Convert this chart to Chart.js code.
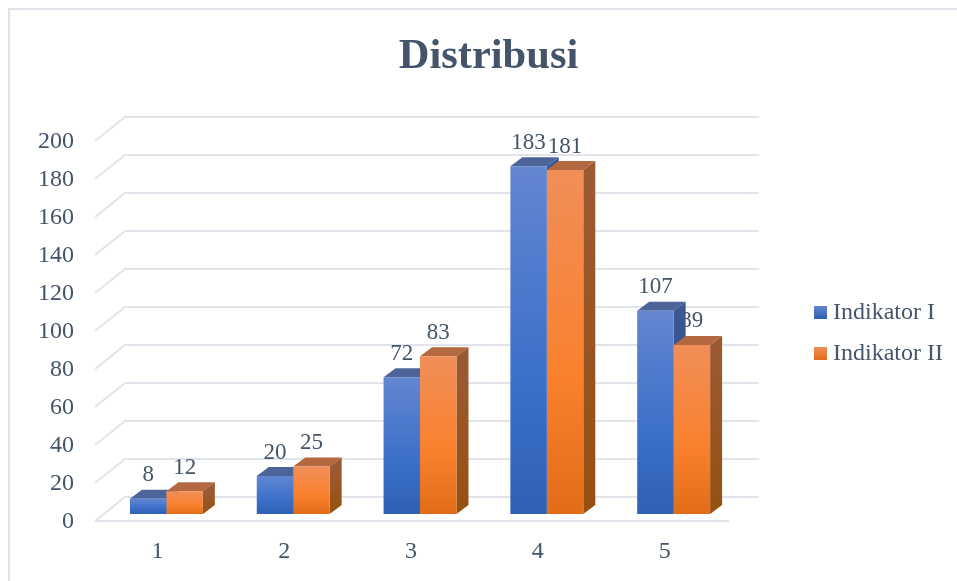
<!DOCTYPE html>
<html>
<head>
<meta charset="utf-8">
<title>Distribusi</title>
<script src="https://cdn.jsdelivr.net/npm/chart.js"></script>
<style>
  html, body { margin: 0; padding: 0; background: #fff; overflow: hidden; width: 957px; height: 581px; }
  #frame { position: absolute; left: 8px; top: 8px; border-left: 2px solid #dfe3ea; border-top: 2px solid #dfe3ea; width: 957px; height: 646px; }
  canvas { display: block; }
</style>
</head>
<body>
<div id="frame"><canvas id="grafik" width="957" height="646"></canvas></div>
<script>
const categories = ["1", "2", "3", "4", "5"];
const indikator1 = [8, 20, 72, 183, 107];
const indikator2 = [12, 25, 83, 181, 89];
const seriesNames = ["Indikator I", "Indikator II"];
const yTicksMax = 200;
const yTicksStep = 20;

const textColor = "#44546a";
const gridColor = "#e1e4eb";
const serif = "'Liberation Serif', 'Times New Roman', serif";

// front, top and side colours for the two series
const faces = [
  { front: ["#6386d0", "#3c70ca", "#2e60b4"], top: "#4c6499", side: ["#3c5792", "#2c4d8c"] },
  { front: ["#f18e58", "#f9812d", "#e36c18"], top: "#b4683f", side: ["#9c5a34", "#96500f"] }
];

// box depth, and how far the floor reaches in front of and behind the bars
const depth = { x: 12, y: 9 };
const floorFront = { x: -8, y: 7 };
const floorBack = { x: 22, y: -17 };

function frontFill(context) {
  const colors = faces[context.datasetIndex].front;
  if (context.dataIndex === undefined || !context.chart.chartArea) return colors[1];
  const y = context.chart.scales.y;
  const g = context.chart.ctx.createLinearGradient(0, y.getPixelForValue(context.raw), 0, y.getPixelForValue(0));
  g.addColorStop(0, colors[0]);
  g.addColorStop(0.6, colors[1]);
  g.addColorStop(1, colors[2]);
  return g;
}

function legendSwatch(colors) {
  const c = document.createElement("canvas");
  c.width = 13;
  c.height = 13;
  const x = c.getContext("2d");
  const g = x.createLinearGradient(0, 0, 0, 13);
  g.addColorStop(0, colors[0]);
  g.addColorStop(1, colors[2]);
  x.fillStyle = g;
  x.fillRect(0, 0, 13, 13);
  return c;
}
const swatches = faces.map(f => legendSwatch(f.front));

function drawWall(chart) {
  const { ctx, chartArea, scales } = chart;
  ctx.strokeStyle = gridColor;
  ctx.lineWidth = 2;
  ctx.lineJoin = "round";
  scales.y.ticks.forEach((t, i) => {
    const y = scales.y.getPixelForTick(i);
    ctx.beginPath();
    ctx.moveTo(chartArea.left + floorFront.x, y + floorFront.y);
    ctx.lineTo(chartArea.left + floorBack.x, y + floorBack.y);
    ctx.lineTo(chartArea.right + floorBack.x, y + floorBack.y);
    ctx.stroke();
  });
  const base = scales.y.getPixelForValue(0) + floorFront.y;
  ctx.beginPath();
  ctx.moveTo(chartArea.left + floorFront.x, base);
  ctx.lineTo(chartArea.right + floorFront.x, base);
  ctx.stroke();
}

function drawValueLabels(chart) {
  const { ctx } = chart;
  ctx.fillStyle = textColor;
  ctx.font = "23px " + serif;
  ctx.textAlign = "center";
  ctx.textBaseline = "middle";
  chart.data.datasets.forEach((ds, d) => {
    chart.getDatasetMeta(d).data.forEach((bar, i) => {
      ctx.fillText(ds.data[i], bar.x, bar.y - 23.5);
    });
  });
}

// top and side of each box, the library paints the fronts over them
function drawBoxSides(chart) {
  const { ctx } = chart;
  faces.forEach((f, d) => {
    chart.getDatasetMeta(d).data.forEach(bar => {
      const l = bar.x - bar.width / 2;
      const r = bar.x + bar.width / 2;
      ctx.fillStyle = f.top;
      ctx.beginPath();
      ctx.moveTo(l, bar.y);
      ctx.lineTo(l + depth.x, bar.y - depth.y);
      ctx.lineTo(r + depth.x, bar.y - depth.y);
      ctx.lineTo(r, bar.y);
      ctx.closePath();
      ctx.fill();
      const g = ctx.createLinearGradient(0, bar.y, 0, bar.base);
      g.addColorStop(0, f.side[0]);
      g.addColorStop(1, f.side[1]);
      ctx.fillStyle = g;
      ctx.beginPath();
      ctx.moveTo(r, bar.y);
      ctx.lineTo(r + depth.x, bar.y - depth.y);
      ctx.lineTo(r + depth.x, bar.base - depth.y);
      ctx.lineTo(r, bar.base);
      ctx.closePath();
      ctx.fill();
    });
  });
}

const wallPlugin = {
  id: "wall",
  beforeDatasetsDraw(chart) {
    chart.ctx.save();
    drawWall(chart);
    // labels go under the boxes, the 89 sits partly behind its neighbour
    drawValueLabels(chart);
    drawBoxSides(chart);
    chart.ctx.restore();
  }
};

new Chart(document.getElementById("grafik"), {
  type: "bar",
  data: {
    labels: categories,
    datasets: [
      { label: seriesNames[0], data: indikator1, backgroundColor: frontFill },
      { label: seriesNames[1], data: indikator2, backgroundColor: frontFill }
    ]
  },
  options: {
    responsive: false,
    animation: false,
    layout: { padding: { left: 14, right: 14 } },
    categoryPercentage: 0.575,
    barPercentage: 1,
    plugins: {
      tooltip: { enabled: false },
      title: {
        display: true,
        text: "Distribusi",
        color: textColor,
        font: { family: serif, size: 42.5, weight: "bold", lineHeight: 1.2 },
        padding: { top: 22, bottom: 51 }
      },
      legend: {
        position: "right",
        labels: {
          color: textColor,
          font: { family: serif, size: 24 },
          padding: 17,
          usePointStyle: true,
          pointStyleWidth: 1,
          generateLabels(chart) {
            const items = Chart.defaults.plugins.legend.labels.generateLabels(chart);
            items.forEach(it => { it.pointStyle = swatches[it.datasetIndex]; });
            return items;
          }
        }
      }
    },
    scales: {
      x: {
        grid: { display: false, drawTicks: false },
        border: { display: false },
        afterFit(scale) { scale.height = 142; },
        ticks: {
          color: textColor,
          font: { family: serif, size: 24 },
          padding: 23,
          labelOffset: -9,
          maxRotation: 0,
          autoSkip: false
        }
      },
      y: {
        min: 0,
        max: yTicksMax,
        grid: { display: false, drawTicks: false },
        border: { display: false },
        afterFit(scale) { scale.width = 79; },
        ticks: {
          stepSize: yTicksStep,
          color: textColor,
          font: { family: serif, size: 24 },
          padding: 29,
          labelOffset: 8
        }
      },
      // keeps the room between the plot and the legend
      gap: {
        position: "right",
        grid: { display: false, drawTicks: false },
        border: { display: false },
        ticks: { display: false },
        afterFit(scale) { scale.width = 66; }
      }
    }
  },
  plugins: [wallPlugin]
});
</script>
</body>
</html>
